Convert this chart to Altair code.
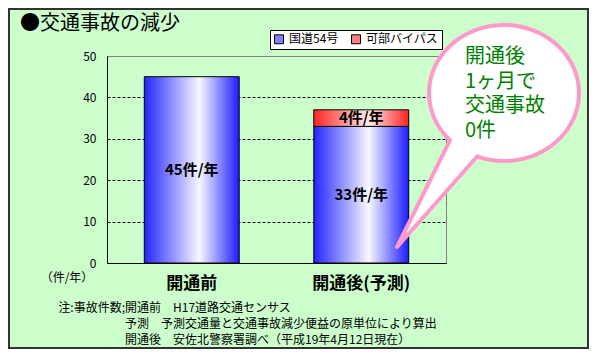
import altair as alt
import pandas as pd
import numpy as np

# ---------------- data ----------------
categories = ["開通前", "開通後(予測)"]
series = ["国道54号", "可部バイパス"]
route54 = [45, 33]
bypass = [0, 4]
y_ticks = [0, 10, 20, 30, 40, 50]

title_text = "●交通事故の減少"
unit_text = "（件/年）"
callout_lines = ["開通後", "1ヶ月で", "交通事故", "0件"]
note_head = "注:事故件数;"
note_lines = [
    "開通前　H17道路交通センサス",
    "予測　予測交通量と交通事故減少便益の原単位により算出",
    "開通後　安佐北警察署調べ（平成19年4月12日現在）",
]

rows = []
for i, c in enumerate(categories):
    rows.append({"category": c, "series": series[0], "order": 0, "value": route54[i]})
    rows.append({"category": c, "series": series[1], "order": 1, "value": bypass[i]})
df = pd.DataFrame(rows)

FONT = "Noto Sans CJK JP"
W, H = 339, 207
PX, PY = 107, 56  # plot origin on page (for annotation placement)


def grad(edge1, mid, edge2, pos=0.58):
    return {
        "gradient": "linear", "x1": 0, "x2": 1, "y1": 0, "y2": 0,
        "stops": [
            {"offset": 0, "color": edge1},
            {"offset": pos, "color": mid},
            {"offset": 1, "color": edge2},
        ],
    }


blue_grad = grad("#2424ff", "#f8f8ff", "#1c1cff")
red_grad = grad("#ff2424", "#ffecec", "#ff2020")

x_enc = alt.X(
    "category:N", sort=categories,
    scale=alt.Scale(paddingInner=0.44, paddingOuter=0.22),
    axis=alt.Axis(title=None, labelAngle=0, labelFontSize=17, labelFontWeight="bold",
                  labelColor="black", labelFont=FONT, ticks=False, labelPadding=12,
                  domainColor="black"),
)
y_scale = alt.Scale(domain=[0, 50], nice=False)
y_axis = alt.Axis(
    values=y_ticks, title=None, ticks=False, labelPadding=11, labelFontSize=12,
    labelColor="black", labelFont=FONT, domainColor="black",
    gridColor="black", gridDash=[3, 2], gridWidth=1,
    gridOpacity={"condition": {"test": "datum.value == 0 || datum.value == 50", "value": 0}, "value": 1},
)

base = (
    alt.Chart(df)
    .transform_filter("datum.value > 0")
    .transform_stack(stack="value", groupby=["category"], as_=["y0", "y1"],
                     sort=[alt.SortField("order", "ascending")])
    .transform_calculate(mid="(datum.y0 + datum.y1) / 2", label="datum.value + '件/年'")
)

blue = base.transform_filter(alt.datum.series == series[0]).mark_bar(
    fill=blue_grad, stroke="black", strokeWidth=1
).encode(x=x_enc, y=alt.Y("y1:Q", scale=y_scale, axis=y_axis), y2="y0:Q")

red = base.transform_filter(alt.datum.series == series[1]).mark_bar(
    fill=red_grad, stroke="black", strokeWidth=1
).encode(x=x_enc, y=alt.Y("y1:Q", scale=y_scale, axis=y_axis), y2="y0:Q")

labels = base.mark_text(fontSize=15, fontWeight="bold", font=FONT, color="black").encode(
    x=x_enc, y=alt.Y("mid:Q", scale=y_scale, axis=y_axis), text="label:N"
)

legend_layer = alt.Chart(df).transform_filter("false").mark_square(opacity=1).encode(
    color=alt.Color(
        "series:N",
        scale=alt.Scale(domain=series, range=["#8080ff", "#ff8080"]),
        legend=alt.Legend(
            title=None, orient="none", legendX=270 - PX, legendY=30 - PY,
            direction="horizontal", fillColor="white", strokeColor="black",
            padding=3, symbolType="square", symbolSize=80,
            symbolStrokeColor="black", symbolStrokeWidth=1,
            labelFontSize=12, labelFont=FONT, labelColor="black",
            labelOffset=4, columnPadding=10,
        ),
    )
)

# ---------------- callout bubble (decorative shape) ----------------
FCX, FCY, HS = 490.0, 134.0, 115.0   # frame centre and half size, page px
ECX, ECY, ERX, ERY = 504.0, 93.0, 75.0, 68.0
TIP = (397.0, 247.0)
th_r = np.deg2rad(111.0)
th_l = np.deg2rad(136.0) - 2 * np.pi
pts = []
for t in np.linspace(th_r, th_l, 72):
    pts.append((ECX + ERX * np.cos(t), ECY + ERY * np.sin(t)))
pts.append(TIP)


def u(p):
    return f"{(p[0] - FCX) / HS:.4f},{(p[1] - FCY) / HS:.4f}"


bubble_path = "M" + " L".join(u(p) for p in pts) + " Z"

one = pd.DataFrame({"t": [""]})
bubble = alt.Chart(one).mark_point(
    shape=bubble_path, size=(2 * HS) ** 2, filled=True, fill="white",
    stroke="#ff99cc", strokeWidth=4, opacity=1, strokeJoin="round",
).encode(x=alt.value(FCX - PX), y=alt.value(FCY - PY))

callout = alt.Chart(pd.DataFrame({"t": ["\n".join(callout_lines)]})).mark_text(
    align="left", baseline="middle", lineBreak="\n", lineHeight=24.5,
    fontSize=20, color="#008000", font=FONT,
).encode(text="t:N", x=alt.value(465 - PX), y=alt.value(57 - PY))

title = alt.Chart(pd.DataFrame({"t": [title_text]})).mark_text(
    align="left", baseline="middle", fontSize=20, color="black", font=FONT,
).encode(text="t:N", x=alt.value(20 - PX), y=alt.value(24 - PY))

unit = alt.Chart(pd.DataFrame({"t": [unit_text]})).mark_text(
    align="center", baseline="middle", fontSize=12, color="black", font=FONT,
).encode(text="t:N", x=alt.value(67 - PX), y=alt.value(278 - PY))

note1 = alt.Chart(pd.DataFrame({"t": [note_head]})).mark_text(
    align="right", baseline="middle", fontSize=12, color="black", font=FONT,
).encode(text="t:N", x=alt.value(125 - PX), y=alt.value(308 - PY))

note2 = alt.Chart(pd.DataFrame({"t": ["\n".join(note_lines)]})).mark_text(
    align="left", baseline="middle", lineBreak="\n", lineHeight=16,
    fontSize=12, color="black", font=FONT,
).encode(text="t:N", x=alt.value(125 - PX), y=alt.value(308 - PY))

border = alt.Chart(one).mark_rect(fillOpacity=0, stroke="#333333", strokeWidth=2).encode(
    x=alt.value(-98), x2=alt.value(481), y=alt.value(-47), y2=alt.value(292)
)

chart = (
    alt.layer(blue, red, labels, legend_layer, bubble, callout, title, unit, note1, note2, border)
    .properties(
        width=W, height=H,
        padding={"left": 99, "top": 48, "right": 143, "bottom": 86},
        autosize=alt.AutoSizeParams(type="none"),
        background="#CCFFCC",
    )
    .configure_view(stroke="#808080", strokeWidth=1, fill="white")
)

chart.save("out.html", embed_options={"renderer": "svg", "actions": False})
